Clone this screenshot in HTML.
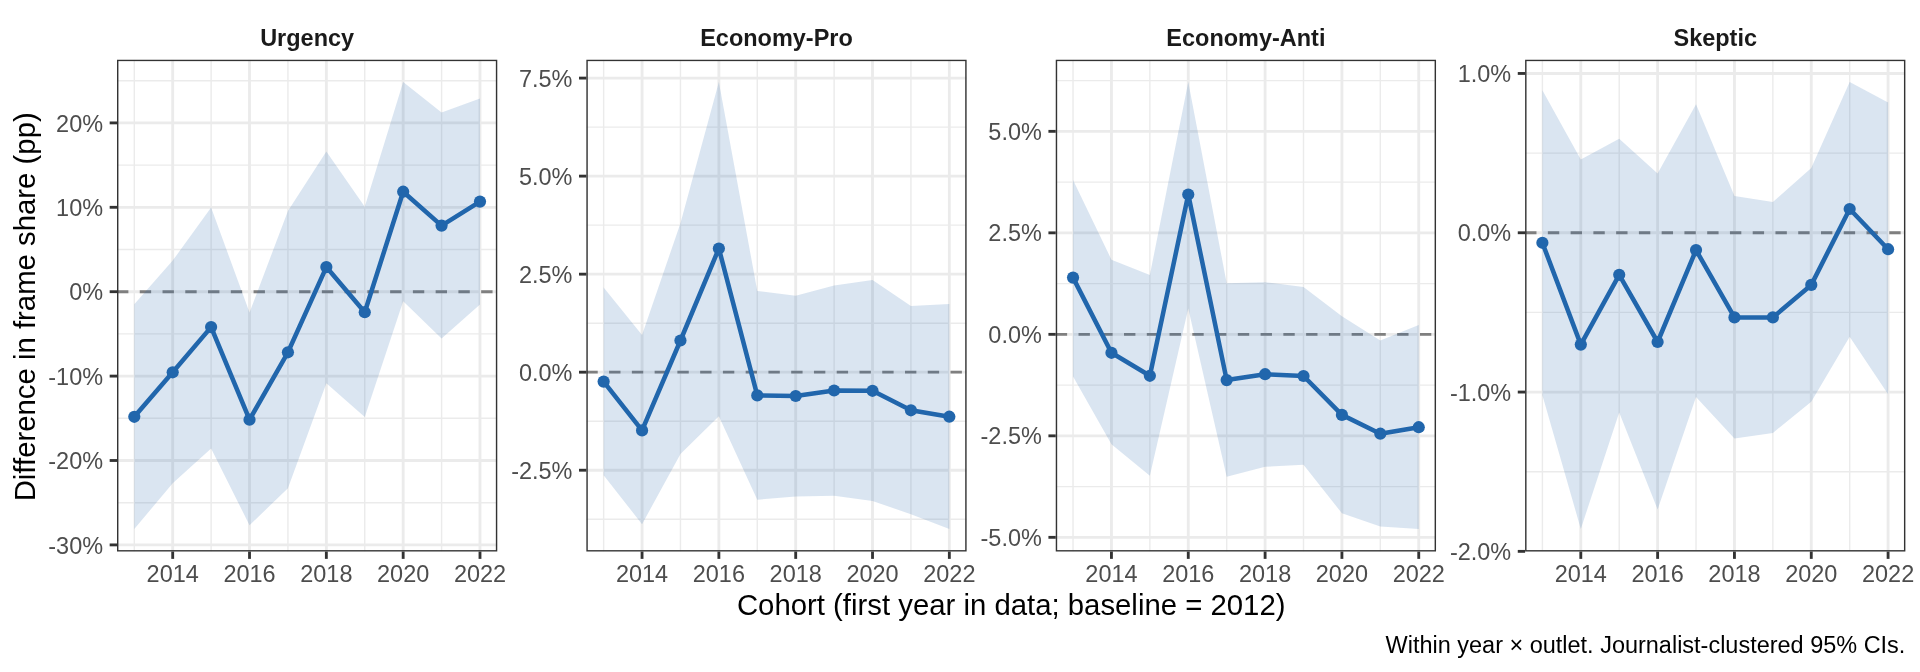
<!DOCTYPE html>
<html><head><meta charset="utf-8"><title>Cohort frame share</title>
<style>html,body{margin:0;padding:0;background:#fff;}svg{display:block;will-change:transform;}</style></head>
<body>
<svg width="1920" height="672" viewBox="0 0 1920 672" font-family="'Liberation Sans', sans-serif">
<rect width="1920" height="672" fill="#fff"/>
<defs>
<clipPath id="c0"><rect x="117" y="59.7" width="380.28" height="491.85"/></clipPath>
<clipPath id="c1"><rect x="586.35" y="59.7" width="380.28" height="491.85"/></clipPath>
<clipPath id="c2"><rect x="1055.75" y="59.7" width="380.28" height="491.85"/></clipPath>
<clipPath id="c3"><rect x="1525.1" y="59.7" width="380.28" height="491.85"/></clipPath>
</defs>
<g clip-path="url(#c0)">
<line x1="117" x2="497.28" y1="80.7" y2="80.7" stroke="#EBEBEB" stroke-width="1.42"/>
<line x1="117" x2="497.28" y1="165.1" y2="165.1" stroke="#EBEBEB" stroke-width="1.42"/>
<line x1="117" x2="497.28" y1="249.5" y2="249.5" stroke="#EBEBEB" stroke-width="1.42"/>
<line x1="117" x2="497.28" y1="333.9" y2="333.9" stroke="#EBEBEB" stroke-width="1.42"/>
<line x1="117" x2="497.28" y1="418.3" y2="418.3" stroke="#EBEBEB" stroke-width="1.42"/>
<line x1="117" x2="497.28" y1="502.7" y2="502.7" stroke="#EBEBEB" stroke-width="1.42"/>
<line x1="134.29" x2="134.29" y1="59.7" y2="551.55" stroke="#EBEBEB" stroke-width="1.42"/>
<line x1="211.11" x2="211.11" y1="59.7" y2="551.55" stroke="#EBEBEB" stroke-width="1.42"/>
<line x1="287.93" x2="287.93" y1="59.7" y2="551.55" stroke="#EBEBEB" stroke-width="1.42"/>
<line x1="364.76" x2="364.76" y1="59.7" y2="551.55" stroke="#EBEBEB" stroke-width="1.42"/>
<line x1="441.58" x2="441.58" y1="59.7" y2="551.55" stroke="#EBEBEB" stroke-width="1.42"/>
<line x1="117" x2="497.28" y1="122.9" y2="122.9" stroke="#EBEBEB" stroke-width="2.85"/>
<line x1="117" x2="497.28" y1="207.3" y2="207.3" stroke="#EBEBEB" stroke-width="2.85"/>
<line x1="117" x2="497.28" y1="291.7" y2="291.7" stroke="#EBEBEB" stroke-width="2.85"/>
<line x1="117" x2="497.28" y1="376.1" y2="376.1" stroke="#EBEBEB" stroke-width="2.85"/>
<line x1="117" x2="497.28" y1="460.5" y2="460.5" stroke="#EBEBEB" stroke-width="2.85"/>
<line x1="117" x2="497.28" y1="544.9" y2="544.9" stroke="#EBEBEB" stroke-width="2.85"/>
<line x1="172.7" x2="172.7" y1="59.7" y2="551.55" stroke="#EBEBEB" stroke-width="2.85"/>
<line x1="249.52" x2="249.52" y1="59.7" y2="551.55" stroke="#EBEBEB" stroke-width="2.85"/>
<line x1="326.35" x2="326.35" y1="59.7" y2="551.55" stroke="#EBEBEB" stroke-width="2.85"/>
<line x1="403.17" x2="403.17" y1="59.7" y2="551.55" stroke="#EBEBEB" stroke-width="2.85"/>
<line x1="479.99" x2="479.99" y1="59.7" y2="551.55" stroke="#EBEBEB" stroke-width="2.85"/>
<line x1="117" x2="497.28" y1="291.7" y2="291.7" stroke="#7F7F7F" stroke-width="2.85" stroke-dasharray="11.38 11.38"/>
<polygon points="134.29,304.3 172.7,260.6 211.11,207.6 249.52,312.5 287.93,211 326.35,151.6 364.76,206.8 403.17,82 441.58,112.4 479.99,98.5 479.99,304.5 441.58,338.4 403.17,301.2 364.76,416.9 326.35,383.3 287.93,488.3 249.52,525.2 211.11,448.5 172.7,483.2 134.29,529" fill="#2166AC" fill-opacity="0.17"/>
<polyline points="134.29,416.8 172.7,372.3 211.11,327.1 249.52,419.7 287.93,352.3 326.35,267.1 364.76,312.2 403.17,191.7 441.58,225.6 479.99,201.6" fill="none" stroke="#2166AC" stroke-width="4.55" stroke-linejoin="round" stroke-linecap="butt"/>
<circle cx="134.29" cy="416.8" r="6.1" fill="#2166AC"/>
<circle cx="172.7" cy="372.3" r="6.1" fill="#2166AC"/>
<circle cx="211.11" cy="327.1" r="6.1" fill="#2166AC"/>
<circle cx="249.52" cy="419.7" r="6.1" fill="#2166AC"/>
<circle cx="287.93" cy="352.3" r="6.1" fill="#2166AC"/>
<circle cx="326.35" cy="267.1" r="6.1" fill="#2166AC"/>
<circle cx="364.76" cy="312.2" r="6.1" fill="#2166AC"/>
<circle cx="403.17" cy="191.7" r="6.1" fill="#2166AC"/>
<circle cx="441.58" cy="225.6" r="6.1" fill="#2166AC"/>
<circle cx="479.99" cy="201.6" r="6.1" fill="#2166AC"/>
<rect x="117" y="59.7" width="380.28" height="491.85" fill="none" stroke="#333333" stroke-width="2.85"/>
</g>
<line x1="109.67" x2="117" y1="122.9" y2="122.9" stroke="#333333" stroke-width="2.85"/>
<text x="103.1" y="131.5" font-size="23.47" fill="#4D4D4D" text-anchor="end">20%</text>
<line x1="109.67" x2="117" y1="207.3" y2="207.3" stroke="#333333" stroke-width="2.85"/>
<text x="103.1" y="215.9" font-size="23.47" fill="#4D4D4D" text-anchor="end">10%</text>
<line x1="109.67" x2="117" y1="291.7" y2="291.7" stroke="#333333" stroke-width="2.85"/>
<text x="103.1" y="300.3" font-size="23.47" fill="#4D4D4D" text-anchor="end">0%</text>
<line x1="109.67" x2="117" y1="376.1" y2="376.1" stroke="#333333" stroke-width="2.85"/>
<text x="103.1" y="384.7" font-size="23.47" fill="#4D4D4D" text-anchor="end">-10%</text>
<line x1="109.67" x2="117" y1="460.5" y2="460.5" stroke="#333333" stroke-width="2.85"/>
<text x="103.1" y="469.1" font-size="23.47" fill="#4D4D4D" text-anchor="end">-20%</text>
<line x1="109.67" x2="117" y1="544.9" y2="544.9" stroke="#333333" stroke-width="2.85"/>
<text x="103.1" y="553.5" font-size="23.47" fill="#4D4D4D" text-anchor="end">-30%</text>
<line x1="172.7" x2="172.7" y1="551.55" y2="558.88" stroke="#333333" stroke-width="2.85"/>
<text x="172.7" y="581.7" font-size="23.47" fill="#4D4D4D" text-anchor="middle">2014</text>
<line x1="249.52" x2="249.52" y1="551.55" y2="558.88" stroke="#333333" stroke-width="2.85"/>
<text x="249.52" y="581.7" font-size="23.47" fill="#4D4D4D" text-anchor="middle">2016</text>
<line x1="326.35" x2="326.35" y1="551.55" y2="558.88" stroke="#333333" stroke-width="2.85"/>
<text x="326.35" y="581.7" font-size="23.47" fill="#4D4D4D" text-anchor="middle">2018</text>
<line x1="403.17" x2="403.17" y1="551.55" y2="558.88" stroke="#333333" stroke-width="2.85"/>
<text x="403.17" y="581.7" font-size="23.47" fill="#4D4D4D" text-anchor="middle">2020</text>
<line x1="479.99" x2="479.99" y1="551.55" y2="558.88" stroke="#333333" stroke-width="2.85"/>
<text x="479.99" y="581.7" font-size="23.47" fill="#4D4D4D" text-anchor="middle">2022</text>
<text x="307.14" y="45.65" font-size="23.47" font-weight="bold" fill="#1A1A1A" text-anchor="middle">Urgency</text>
<g clip-path="url(#c1)">
<line x1="586.35" x2="966.63" y1="127.11" y2="127.11" stroke="#EBEBEB" stroke-width="1.42"/>
<line x1="586.35" x2="966.63" y1="225.14" y2="225.14" stroke="#EBEBEB" stroke-width="1.42"/>
<line x1="586.35" x2="966.63" y1="323.17" y2="323.17" stroke="#EBEBEB" stroke-width="1.42"/>
<line x1="586.35" x2="966.63" y1="421.21" y2="421.21" stroke="#EBEBEB" stroke-width="1.42"/>
<line x1="586.35" x2="966.63" y1="519.24" y2="519.24" stroke="#EBEBEB" stroke-width="1.42"/>
<line x1="603.64" x2="603.64" y1="59.7" y2="551.55" stroke="#EBEBEB" stroke-width="1.42"/>
<line x1="680.46" x2="680.46" y1="59.7" y2="551.55" stroke="#EBEBEB" stroke-width="1.42"/>
<line x1="757.28" x2="757.28" y1="59.7" y2="551.55" stroke="#EBEBEB" stroke-width="1.42"/>
<line x1="834.11" x2="834.11" y1="59.7" y2="551.55" stroke="#EBEBEB" stroke-width="1.42"/>
<line x1="910.93" x2="910.93" y1="59.7" y2="551.55" stroke="#EBEBEB" stroke-width="1.42"/>
<line x1="586.35" x2="966.63" y1="78.09" y2="78.09" stroke="#EBEBEB" stroke-width="2.85"/>
<line x1="586.35" x2="966.63" y1="176.12" y2="176.12" stroke="#EBEBEB" stroke-width="2.85"/>
<line x1="586.35" x2="966.63" y1="274.16" y2="274.16" stroke="#EBEBEB" stroke-width="2.85"/>
<line x1="586.35" x2="966.63" y1="372.19" y2="372.19" stroke="#EBEBEB" stroke-width="2.85"/>
<line x1="586.35" x2="966.63" y1="470.22" y2="470.22" stroke="#EBEBEB" stroke-width="2.85"/>
<line x1="642.05" x2="642.05" y1="59.7" y2="551.55" stroke="#EBEBEB" stroke-width="2.85"/>
<line x1="718.87" x2="718.87" y1="59.7" y2="551.55" stroke="#EBEBEB" stroke-width="2.85"/>
<line x1="795.7" x2="795.7" y1="59.7" y2="551.55" stroke="#EBEBEB" stroke-width="2.85"/>
<line x1="872.52" x2="872.52" y1="59.7" y2="551.55" stroke="#EBEBEB" stroke-width="2.85"/>
<line x1="949.34" x2="949.34" y1="59.7" y2="551.55" stroke="#EBEBEB" stroke-width="2.85"/>
<line x1="586.35" x2="966.63" y1="372.19" y2="372.19" stroke="#7F7F7F" stroke-width="2.85" stroke-dasharray="11.38 11.38"/>
<polygon points="603.64,287.6 642.05,335.1 680.46,223.2 718.87,82 757.28,290.9 795.7,295.7 834.11,285.4 872.52,280.1 910.93,306.1 949.34,304 949.34,529 910.93,514.2 872.52,501 834.11,495.8 795.7,496.5 757.28,499.7 718.87,416.2 680.46,454.1 642.05,524.2 603.64,475.3" fill="#2166AC" fill-opacity="0.17"/>
<polyline points="603.64,381.6 642.05,430.4 680.46,340.5 718.87,248.5 757.28,395.4 795.7,396 834.11,390.5 872.52,390.8 910.93,410.3 949.34,416.7" fill="none" stroke="#2166AC" stroke-width="4.55" stroke-linejoin="round" stroke-linecap="butt"/>
<circle cx="603.64" cy="381.6" r="6.1" fill="#2166AC"/>
<circle cx="642.05" cy="430.4" r="6.1" fill="#2166AC"/>
<circle cx="680.46" cy="340.5" r="6.1" fill="#2166AC"/>
<circle cx="718.87" cy="248.5" r="6.1" fill="#2166AC"/>
<circle cx="757.28" cy="395.4" r="6.1" fill="#2166AC"/>
<circle cx="795.7" cy="396" r="6.1" fill="#2166AC"/>
<circle cx="834.11" cy="390.5" r="6.1" fill="#2166AC"/>
<circle cx="872.52" cy="390.8" r="6.1" fill="#2166AC"/>
<circle cx="910.93" cy="410.3" r="6.1" fill="#2166AC"/>
<circle cx="949.34" cy="416.7" r="6.1" fill="#2166AC"/>
<rect x="586.35" y="59.7" width="380.28" height="491.85" fill="none" stroke="#333333" stroke-width="2.85"/>
</g>
<line x1="579.02" x2="586.35" y1="78.09" y2="78.09" stroke="#333333" stroke-width="2.85"/>
<text x="572.45" y="86.69" font-size="23.47" fill="#4D4D4D" text-anchor="end">7.5%</text>
<line x1="579.02" x2="586.35" y1="176.12" y2="176.12" stroke="#333333" stroke-width="2.85"/>
<text x="572.45" y="184.72" font-size="23.47" fill="#4D4D4D" text-anchor="end">5.0%</text>
<line x1="579.02" x2="586.35" y1="274.16" y2="274.16" stroke="#333333" stroke-width="2.85"/>
<text x="572.45" y="282.76" font-size="23.47" fill="#4D4D4D" text-anchor="end">2.5%</text>
<line x1="579.02" x2="586.35" y1="372.19" y2="372.19" stroke="#333333" stroke-width="2.85"/>
<text x="572.45" y="380.79" font-size="23.47" fill="#4D4D4D" text-anchor="end">0.0%</text>
<line x1="579.02" x2="586.35" y1="470.22" y2="470.22" stroke="#333333" stroke-width="2.85"/>
<text x="572.45" y="478.82" font-size="23.47" fill="#4D4D4D" text-anchor="end">-2.5%</text>
<line x1="642.05" x2="642.05" y1="551.55" y2="558.88" stroke="#333333" stroke-width="2.85"/>
<text x="642.05" y="581.7" font-size="23.47" fill="#4D4D4D" text-anchor="middle">2014</text>
<line x1="718.87" x2="718.87" y1="551.55" y2="558.88" stroke="#333333" stroke-width="2.85"/>
<text x="718.87" y="581.7" font-size="23.47" fill="#4D4D4D" text-anchor="middle">2016</text>
<line x1="795.7" x2="795.7" y1="551.55" y2="558.88" stroke="#333333" stroke-width="2.85"/>
<text x="795.7" y="581.7" font-size="23.47" fill="#4D4D4D" text-anchor="middle">2018</text>
<line x1="872.52" x2="872.52" y1="551.55" y2="558.88" stroke="#333333" stroke-width="2.85"/>
<text x="872.52" y="581.7" font-size="23.47" fill="#4D4D4D" text-anchor="middle">2020</text>
<line x1="949.34" x2="949.34" y1="551.55" y2="558.88" stroke="#333333" stroke-width="2.85"/>
<text x="949.34" y="581.7" font-size="23.47" fill="#4D4D4D" text-anchor="middle">2022</text>
<text x="776.49" y="45.65" font-size="23.47" font-weight="bold" fill="#1A1A1A" text-anchor="middle">Economy-Pro</text>
<g clip-path="url(#c2)">
<line x1="1055.75" x2="1436.03" y1="80.59" y2="80.59" stroke="#EBEBEB" stroke-width="1.42"/>
<line x1="1055.75" x2="1436.03" y1="182.09" y2="182.09" stroke="#EBEBEB" stroke-width="1.42"/>
<line x1="1055.75" x2="1436.03" y1="283.59" y2="283.59" stroke="#EBEBEB" stroke-width="1.42"/>
<line x1="1055.75" x2="1436.03" y1="385.09" y2="385.09" stroke="#EBEBEB" stroke-width="1.42"/>
<line x1="1055.75" x2="1436.03" y1="486.59" y2="486.59" stroke="#EBEBEB" stroke-width="1.42"/>
<line x1="1073.04" x2="1073.04" y1="59.7" y2="551.55" stroke="#EBEBEB" stroke-width="1.42"/>
<line x1="1149.86" x2="1149.86" y1="59.7" y2="551.55" stroke="#EBEBEB" stroke-width="1.42"/>
<line x1="1226.68" x2="1226.68" y1="59.7" y2="551.55" stroke="#EBEBEB" stroke-width="1.42"/>
<line x1="1303.51" x2="1303.51" y1="59.7" y2="551.55" stroke="#EBEBEB" stroke-width="1.42"/>
<line x1="1380.33" x2="1380.33" y1="59.7" y2="551.55" stroke="#EBEBEB" stroke-width="1.42"/>
<line x1="1055.75" x2="1436.03" y1="131.34" y2="131.34" stroke="#EBEBEB" stroke-width="2.85"/>
<line x1="1055.75" x2="1436.03" y1="232.84" y2="232.84" stroke="#EBEBEB" stroke-width="2.85"/>
<line x1="1055.75" x2="1436.03" y1="334.34" y2="334.34" stroke="#EBEBEB" stroke-width="2.85"/>
<line x1="1055.75" x2="1436.03" y1="435.84" y2="435.84" stroke="#EBEBEB" stroke-width="2.85"/>
<line x1="1055.75" x2="1436.03" y1="537.34" y2="537.34" stroke="#EBEBEB" stroke-width="2.85"/>
<line x1="1111.45" x2="1111.45" y1="59.7" y2="551.55" stroke="#EBEBEB" stroke-width="2.85"/>
<line x1="1188.27" x2="1188.27" y1="59.7" y2="551.55" stroke="#EBEBEB" stroke-width="2.85"/>
<line x1="1265.1" x2="1265.1" y1="59.7" y2="551.55" stroke="#EBEBEB" stroke-width="2.85"/>
<line x1="1341.92" x2="1341.92" y1="59.7" y2="551.55" stroke="#EBEBEB" stroke-width="2.85"/>
<line x1="1418.74" x2="1418.74" y1="59.7" y2="551.55" stroke="#EBEBEB" stroke-width="2.85"/>
<line x1="1055.75" x2="1436.03" y1="334.34" y2="334.34" stroke="#7F7F7F" stroke-width="2.85" stroke-dasharray="11.38 11.38"/>
<polygon points="1073.04,180 1111.45,259.7 1149.86,275.1 1188.27,82 1226.68,283.3 1265.1,282.2 1303.51,287.1 1341.92,316.2 1380.33,340.4 1418.74,325.1 1418.74,529 1380.33,526.6 1341.92,513.3 1303.51,464.8 1265.1,466.8 1226.68,476.7 1188.27,308.6 1149.86,475.7 1111.45,444.3 1073.04,376.4" fill="#2166AC" fill-opacity="0.17"/>
<polyline points="1073.04,277.6 1111.45,352.8 1149.86,375.8 1188.27,194.5 1226.68,380.1 1265.1,374.2 1303.51,376 1341.92,414.9 1380.33,433.7 1418.74,427.2" fill="none" stroke="#2166AC" stroke-width="4.55" stroke-linejoin="round" stroke-linecap="butt"/>
<circle cx="1073.04" cy="277.6" r="6.1" fill="#2166AC"/>
<circle cx="1111.45" cy="352.8" r="6.1" fill="#2166AC"/>
<circle cx="1149.86" cy="375.8" r="6.1" fill="#2166AC"/>
<circle cx="1188.27" cy="194.5" r="6.1" fill="#2166AC"/>
<circle cx="1226.68" cy="380.1" r="6.1" fill="#2166AC"/>
<circle cx="1265.1" cy="374.2" r="6.1" fill="#2166AC"/>
<circle cx="1303.51" cy="376" r="6.1" fill="#2166AC"/>
<circle cx="1341.92" cy="414.9" r="6.1" fill="#2166AC"/>
<circle cx="1380.33" cy="433.7" r="6.1" fill="#2166AC"/>
<circle cx="1418.74" cy="427.2" r="6.1" fill="#2166AC"/>
<rect x="1055.75" y="59.7" width="380.28" height="491.85" fill="none" stroke="#333333" stroke-width="2.85"/>
</g>
<line x1="1048.42" x2="1055.75" y1="131.34" y2="131.34" stroke="#333333" stroke-width="2.85"/>
<text x="1041.85" y="139.94" font-size="23.47" fill="#4D4D4D" text-anchor="end">5.0%</text>
<line x1="1048.42" x2="1055.75" y1="232.84" y2="232.84" stroke="#333333" stroke-width="2.85"/>
<text x="1041.85" y="241.44" font-size="23.47" fill="#4D4D4D" text-anchor="end">2.5%</text>
<line x1="1048.42" x2="1055.75" y1="334.34" y2="334.34" stroke="#333333" stroke-width="2.85"/>
<text x="1041.85" y="342.94" font-size="23.47" fill="#4D4D4D" text-anchor="end">0.0%</text>
<line x1="1048.42" x2="1055.75" y1="435.84" y2="435.84" stroke="#333333" stroke-width="2.85"/>
<text x="1041.85" y="444.44" font-size="23.47" fill="#4D4D4D" text-anchor="end">-2.5%</text>
<line x1="1048.42" x2="1055.75" y1="537.34" y2="537.34" stroke="#333333" stroke-width="2.85"/>
<text x="1041.85" y="545.94" font-size="23.47" fill="#4D4D4D" text-anchor="end">-5.0%</text>
<line x1="1111.45" x2="1111.45" y1="551.55" y2="558.88" stroke="#333333" stroke-width="2.85"/>
<text x="1111.45" y="581.7" font-size="23.47" fill="#4D4D4D" text-anchor="middle">2014</text>
<line x1="1188.27" x2="1188.27" y1="551.55" y2="558.88" stroke="#333333" stroke-width="2.85"/>
<text x="1188.27" y="581.7" font-size="23.47" fill="#4D4D4D" text-anchor="middle">2016</text>
<line x1="1265.1" x2="1265.1" y1="551.55" y2="558.88" stroke="#333333" stroke-width="2.85"/>
<text x="1265.1" y="581.7" font-size="23.47" fill="#4D4D4D" text-anchor="middle">2018</text>
<line x1="1341.92" x2="1341.92" y1="551.55" y2="558.88" stroke="#333333" stroke-width="2.85"/>
<text x="1341.92" y="581.7" font-size="23.47" fill="#4D4D4D" text-anchor="middle">2020</text>
<line x1="1418.74" x2="1418.74" y1="551.55" y2="558.88" stroke="#333333" stroke-width="2.85"/>
<text x="1418.74" y="581.7" font-size="23.47" fill="#4D4D4D" text-anchor="middle">2022</text>
<text x="1245.89" y="45.65" font-size="23.47" font-weight="bold" fill="#1A1A1A" text-anchor="middle">Economy-Anti</text>
<g clip-path="url(#c3)">
<line x1="1525.1" x2="1905.38" y1="153.11" y2="153.11" stroke="#EBEBEB" stroke-width="1.42"/>
<line x1="1525.1" x2="1905.38" y1="312.41" y2="312.41" stroke="#EBEBEB" stroke-width="1.42"/>
<line x1="1525.1" x2="1905.38" y1="471.71" y2="471.71" stroke="#EBEBEB" stroke-width="1.42"/>
<line x1="1542.39" x2="1542.39" y1="59.7" y2="551.55" stroke="#EBEBEB" stroke-width="1.42"/>
<line x1="1619.21" x2="1619.21" y1="59.7" y2="551.55" stroke="#EBEBEB" stroke-width="1.42"/>
<line x1="1696.03" x2="1696.03" y1="59.7" y2="551.55" stroke="#EBEBEB" stroke-width="1.42"/>
<line x1="1772.86" x2="1772.86" y1="59.7" y2="551.55" stroke="#EBEBEB" stroke-width="1.42"/>
<line x1="1849.68" x2="1849.68" y1="59.7" y2="551.55" stroke="#EBEBEB" stroke-width="1.42"/>
<line x1="1525.1" x2="1905.38" y1="73.46" y2="73.46" stroke="#EBEBEB" stroke-width="2.85"/>
<line x1="1525.1" x2="1905.38" y1="232.76" y2="232.76" stroke="#EBEBEB" stroke-width="2.85"/>
<line x1="1525.1" x2="1905.38" y1="392.06" y2="392.06" stroke="#EBEBEB" stroke-width="2.85"/>
<line x1="1525.1" x2="1905.38" y1="551.36" y2="551.36" stroke="#EBEBEB" stroke-width="2.85"/>
<line x1="1580.8" x2="1580.8" y1="59.7" y2="551.55" stroke="#EBEBEB" stroke-width="2.85"/>
<line x1="1657.62" x2="1657.62" y1="59.7" y2="551.55" stroke="#EBEBEB" stroke-width="2.85"/>
<line x1="1734.45" x2="1734.45" y1="59.7" y2="551.55" stroke="#EBEBEB" stroke-width="2.85"/>
<line x1="1811.27" x2="1811.27" y1="59.7" y2="551.55" stroke="#EBEBEB" stroke-width="2.85"/>
<line x1="1888.09" x2="1888.09" y1="59.7" y2="551.55" stroke="#EBEBEB" stroke-width="2.85"/>
<line x1="1525.1" x2="1905.38" y1="232.76" y2="232.76" stroke="#7F7F7F" stroke-width="2.85" stroke-dasharray="11.38 11.38"/>
<polygon points="1542.39,90.2 1580.8,159.5 1619.21,138.8 1657.62,173.4 1696.03,104.2 1734.45,196 1772.86,202 1811.27,168 1849.68,82 1888.09,102.6 1888.09,394.3 1849.68,336.8 1811.27,401.7 1772.86,432.9 1734.45,438.6 1696.03,396.9 1657.62,509.5 1619.21,412.4 1580.8,529 1542.39,395.2" fill="#2166AC" fill-opacity="0.17"/>
<polyline points="1542.39,242.8 1580.8,344.6 1619.21,274.8 1657.62,342 1696.03,250.1 1734.45,317.4 1772.86,317.4 1811.27,284.9 1849.68,209 1888.09,249.2" fill="none" stroke="#2166AC" stroke-width="4.55" stroke-linejoin="round" stroke-linecap="butt"/>
<circle cx="1542.39" cy="242.8" r="6.1" fill="#2166AC"/>
<circle cx="1580.8" cy="344.6" r="6.1" fill="#2166AC"/>
<circle cx="1619.21" cy="274.8" r="6.1" fill="#2166AC"/>
<circle cx="1657.62" cy="342" r="6.1" fill="#2166AC"/>
<circle cx="1696.03" cy="250.1" r="6.1" fill="#2166AC"/>
<circle cx="1734.45" cy="317.4" r="6.1" fill="#2166AC"/>
<circle cx="1772.86" cy="317.4" r="6.1" fill="#2166AC"/>
<circle cx="1811.27" cy="284.9" r="6.1" fill="#2166AC"/>
<circle cx="1849.68" cy="209" r="6.1" fill="#2166AC"/>
<circle cx="1888.09" cy="249.2" r="6.1" fill="#2166AC"/>
<rect x="1525.1" y="59.7" width="380.28" height="491.85" fill="none" stroke="#333333" stroke-width="2.85"/>
</g>
<line x1="1517.77" x2="1525.1" y1="73.46" y2="73.46" stroke="#333333" stroke-width="2.85"/>
<text x="1511.2" y="82.06" font-size="23.47" fill="#4D4D4D" text-anchor="end">1.0%</text>
<line x1="1517.77" x2="1525.1" y1="232.76" y2="232.76" stroke="#333333" stroke-width="2.85"/>
<text x="1511.2" y="241.36" font-size="23.47" fill="#4D4D4D" text-anchor="end">0.0%</text>
<line x1="1517.77" x2="1525.1" y1="392.06" y2="392.06" stroke="#333333" stroke-width="2.85"/>
<text x="1511.2" y="400.66" font-size="23.47" fill="#4D4D4D" text-anchor="end">-1.0%</text>
<line x1="1517.77" x2="1525.1" y1="551.36" y2="551.36" stroke="#333333" stroke-width="2.85"/>
<text x="1511.2" y="559.96" font-size="23.47" fill="#4D4D4D" text-anchor="end">-2.0%</text>
<line x1="1580.8" x2="1580.8" y1="551.55" y2="558.88" stroke="#333333" stroke-width="2.85"/>
<text x="1580.8" y="581.7" font-size="23.47" fill="#4D4D4D" text-anchor="middle">2014</text>
<line x1="1657.62" x2="1657.62" y1="551.55" y2="558.88" stroke="#333333" stroke-width="2.85"/>
<text x="1657.62" y="581.7" font-size="23.47" fill="#4D4D4D" text-anchor="middle">2016</text>
<line x1="1734.45" x2="1734.45" y1="551.55" y2="558.88" stroke="#333333" stroke-width="2.85"/>
<text x="1734.45" y="581.7" font-size="23.47" fill="#4D4D4D" text-anchor="middle">2018</text>
<line x1="1811.27" x2="1811.27" y1="551.55" y2="558.88" stroke="#333333" stroke-width="2.85"/>
<text x="1811.27" y="581.7" font-size="23.47" fill="#4D4D4D" text-anchor="middle">2020</text>
<line x1="1888.09" x2="1888.09" y1="551.55" y2="558.88" stroke="#333333" stroke-width="2.85"/>
<text x="1888.09" y="581.7" font-size="23.47" fill="#4D4D4D" text-anchor="middle">2022</text>
<text x="1715.24" y="45.65" font-size="23.47" font-weight="bold" fill="#1A1A1A" text-anchor="middle">Skeptic</text>
<text x="1011.19" y="614.7" font-size="29.33" fill="#000" text-anchor="middle">Cohort (first year in data; baseline = 2012)</text>
<text transform="translate(35.2 306.82) rotate(-90)" font-size="29.33" fill="#000" text-anchor="middle">Difference in frame share (pp)</text>
<text x="1905.38" y="652.9" font-size="23.47" fill="#000" text-anchor="end">Within year × outlet. Journalist-clustered 95% CIs.</text>
</svg>
</body></html>
